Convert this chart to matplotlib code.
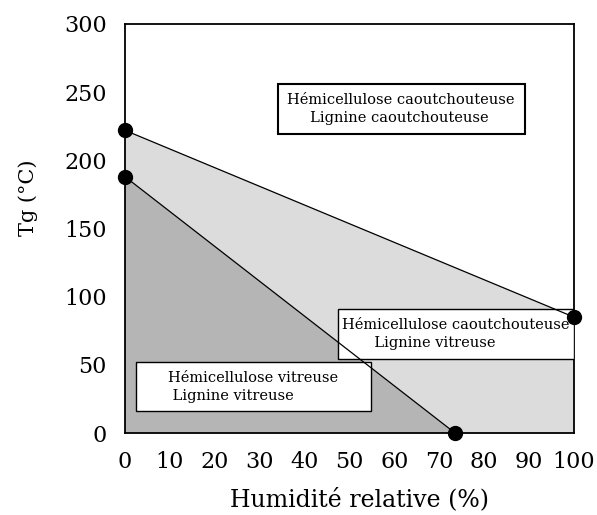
import matplotlib
matplotlib.use("Agg")
from matplotlib import pyplot as plt
from matplotlib.patches import Polygon, Rectangle

# phase boundary points (humidite relative %, Tg °C)
hemi_x = [0, 100]
hemi_y = [222, 85]
lign_x = [0, 73.5]
lign_y = [188, 0]

x_ticks = [0, 10, 20, 30, 40, 50, 60, 70, 80, 90, 100]
y_ticks = [0, 50, 100, 150, 200, 250, 300]

labels = ["Hémicellulose caoutchouteuse\n     Lignine caoutchouteuse",
          "Hémicellulose caoutchouteuse\n       Lignine vitreuse",
          "Hémicellulose vitreuse\n Lignine vitreuse"]
label_boxes = [(34, 219, 55, 37), (47.4, 54, 52.6, 37), (2.4, 16, 52.4, 36)]
box_lw = [1.5, 1.0, 1.0]

plt.rcParams['font.family'] = ['DejaVu Serif']

fig = plt.figure(figsize=(5.97, 5.15), dpi=100)
ax = fig.add_axes([0.2094, 0.1592, 0.7521, 0.7942])

light = '#dcdcdc'
dark = '#b5b5b5'

ax.add_patch(Polygon([(hemi_x[0], 0), (hemi_x[0], hemi_y[0]), (hemi_x[1], hemi_y[1]), (hemi_x[1], 0)],
                     closed=True, facecolor=light, edgecolor='none', zorder=1))
ax.add_patch(Polygon([(lign_x[0], 0), (lign_x[0], lign_y[0]), (lign_x[1], lign_y[1])],
                     closed=True, facecolor=dark, edgecolor='none', zorder=2))

ax.plot(hemi_x, hemi_y, color='black', lw=0.9, zorder=4)
ax.plot(lign_x, lign_y, color='black', lw=0.9, zorder=4)

for (bx, by, bw, bh), txt, lw in zip(label_boxes, labels, box_lw):
    ax.add_patch(Rectangle((bx, by), bw, bh, facecolor='white', edgecolor='black',
                           lw=lw, zorder=3))
    ax.text(bx + bw / 2, by + bh / 2, txt, ha='center', va='center', fontsize=10.5,
            multialignment='left', linespacing=1.35, zorder=5)

ax.plot([hemi_x[0], hemi_x[1], lign_x[0], lign_x[1]], [hemi_y[0], hemi_y[1], lign_y[0], lign_y[1]],
        'o', color='black', markersize=10, zorder=6, clip_on=False)

ax.set_xlim(0, 100)
ax.set_ylim(0, 300)
ax.set_xticks(x_ticks)
ax.set_yticks(y_ticks)
ax.tick_params(length=0, labelsize=16, pad=13)
for s in ax.spines.values():
    s.set_linewidth(1.3)

ax.set_xlabel('Humidité relative (%)', fontsize=17)
ax.set_ylabel('Tg (°C)', fontsize=15)
ax.xaxis.set_label_coords(0.523, -0.134)
ax.yaxis.set_label_coords(-0.194, 0.575)

fig.savefig('out.png', dpi=100)
